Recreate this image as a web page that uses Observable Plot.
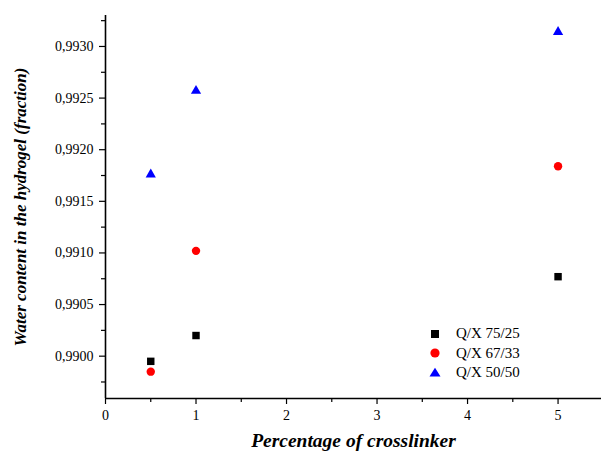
<!DOCTYPE html>
<html>
<head>
<meta charset="utf-8">
<script src="https://cdn.jsdelivr.net/npm/d3@7"></script>
<script src="https://cdn.jsdelivr.net/npm/@observablehq/plot@0.6"></script>
<style>
  body { margin: 0; background: #fff; font-family: 'Liberation Serif', serif; }
  #wrap { position: relative; width: 601px; height: 452px; font-family: 'Liberation Serif', serif; }
  g[aria-label="x-axis label"] text, g[aria-label="y-axis label"] text { font-weight: bold; font-style: italic; }
  g[aria-label="x-axis label"] text { font-size: 19.5px; }
  g[aria-label="y-axis label"] text { font-size: 17px; }
  #legend { position: absolute; left: 428px; top: 324px; font-family: 'Liberation Serif', serif; font-size: 15px; line-height: 19.5px; color: #000; }
  #legend .row { display: flex; align-items: center; height: 19.5px; }
  #legend svg { width: 14px; height: 14px; margin-right: 14px; }
</style>
</head>
<body>
<div id="wrap"></div>
<script>
// Data
const crosslinker = [0.5, 1, 5];
const seriesNames = ["Q/X 75/25", "Q/X 67/33", "Q/X 50/50"];
const q75 = [0.98995, 0.99020, 0.99077];
const q67 = [0.98985, 0.99102, 0.99184];
const q50 = [0.99176, 0.99257, 0.99314];
const seriesColors = ["#000000", "#ff0000", "#0000ff"];
const yTicks = [0.9900, 0.9905, 0.9910, 0.9915, 0.9920, 0.9925, 0.9930];
const yMinor = [0.98975, 0.99025, 0.99075, 0.99125, 0.99175, 0.99225, 0.99275, 0.99325];
const xTicks = [0, 1, 2, 3, 4, 5];
const xMinor = [0.5, 1.5, 2.5, 3.5, 4.5];

const rows = [];
[q75, q67, q50].forEach((vals, i) => vals.forEach((v, j) => rows.push({x: crosslinker[j], y: v, series: seriesNames[i]})));

const yDomain = [0.98959, 0.99330];
const fmt = d => d3.format(".4f")(d).replace(".", ",");
const FF = "'Liberation Serif', serif";

const chart = Plot.plot({
  width: 601,
  height: 452,
  marginLeft: 105,
  marginRight: 0,
  marginTop: 15,
  marginBottom: 54,
  style: {fontFamily: FF, fontSize: "14px", background: "#fff", color: "#000"},
  x: {domain: [0, 5.48]},
  y: {domain: yDomain},
  marks: [
    Plot.axisY(yMinor, {tickSize: 4, tickFormat: () => "", strokeWidth: 1.2, label: null}),
    Plot.axisY(yTicks, {tickSize: 6, tickPadding: 6, tickFormat: fmt, fontSize: 14, fontFamily: FF, strokeWidth: 1.2,
      label: "Water content in the hydrogel (fraction)", labelAnchor: "center", labelOffset: 92, labelArrow: "none"}),
    Plot.axisX(xMinor, {tickSize: 4, tickFormat: () => "", strokeWidth: 1.2, label: null}),
    Plot.axisX(xTicks, {tickSize: 6, tickPadding: 6, tickFormat: d => String(d), fontSize: 14, fontFamily: FF, strokeWidth: 1.2,
      label: "Percentage of crosslinker", labelAnchor: "center", labelOffset: 48, labelArrow: "none"}),
    Plot.ruleX([0], {y1: yDomain[0], y2: yDomain[1], stroke: "#000", strokeWidth: 1.6}),
    Plot.ruleY([yDomain[0]], {stroke: "#000", strokeWidth: 1.6}),
    Plot.dot(rows.filter(d => d.series === seriesNames[0]), {x: "x", y: "y", symbol: "square", r: 4.2, fill: seriesColors[0], stroke: "none"}),
    Plot.dot(rows.filter(d => d.series === seriesNames[1]), {x: "x", y: "y", symbol: "circle", r: 4.2, fill: seriesColors[1], stroke: "none"}),
    Plot.dot(rows.filter(d => d.series === seriesNames[2]), {x: "x", y: "y", symbol: "triangle", r: 3.8, fill: seriesColors[2], stroke: "none"})
  ]
});
const wrap = document.getElementById("wrap");
wrap.appendChild(chart);

// Legend
const legend = document.createElement("div");
legend.id = "legend";
const shapes = [
  '<rect x="3" y="3" width="8" height="8" fill="' + seriesColors[0] + '"/>',
  '<circle cx="7" cy="7" r="4.6" fill="' + seriesColors[1] + '"/>',
  '<polygon points="7,1.8 12.5,10.6 1.5,10.6" fill="' + seriesColors[2] + '"/>'
];
seriesNames.forEach((name, i) => {
  const row = document.createElement("div");
  row.className = "row";
  row.innerHTML = '<svg viewBox="0 0 14 14">' + shapes[i] + '</svg><span>' + name + '</span>';
  legend.appendChild(row);
});
wrap.appendChild(legend);
</script>
</body>
</html>
